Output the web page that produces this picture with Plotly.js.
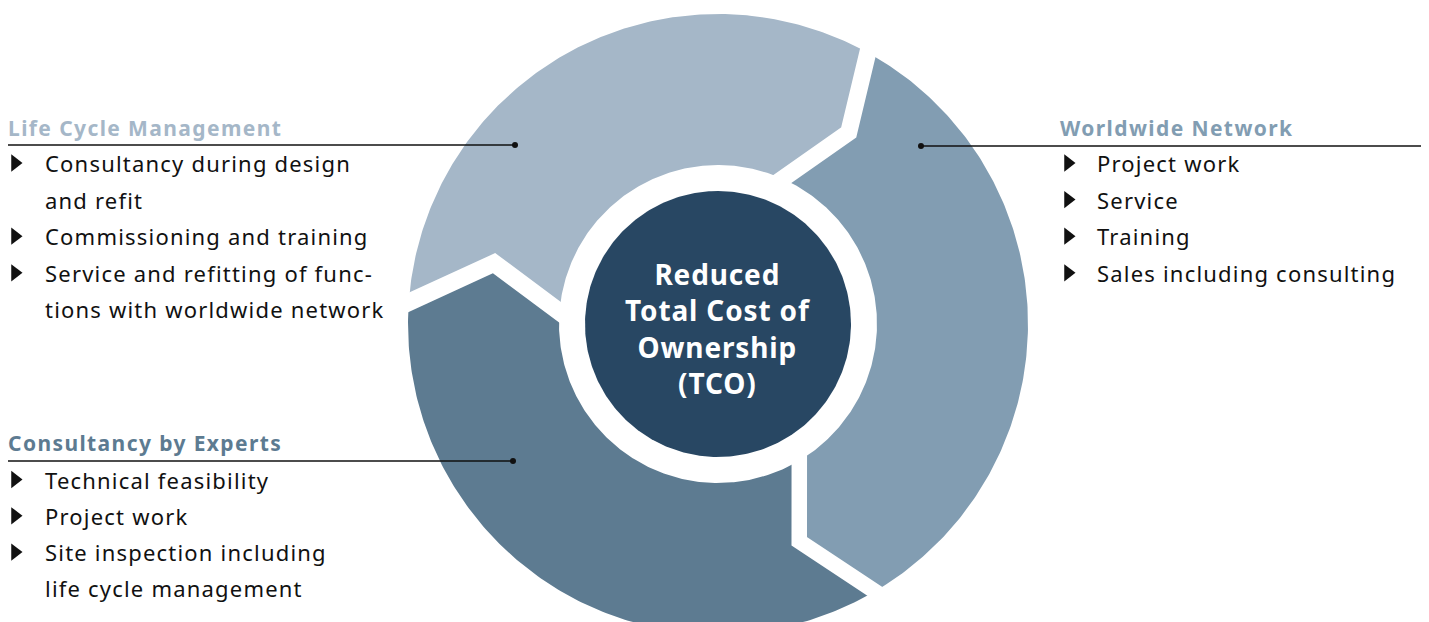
<!DOCTYPE html>
<html><head><meta charset="utf-8">
<script src="https://cdn.plot.ly/plotly-3.0.1.min.js"></script>
<style>html,body{margin:0;padding:0;background:#fff;overflow:hidden}</style>
</head><body><div id="chart" style="width:1429px;height:622px"></div>
<script>
// ---------------- data ----------------
const segmentNames  = ["Life Cycle Management", "Worldwide Network", "Consultancy by Experts"];
const segmentColors = ["#a5b7c8", "#829db2", "#5d7b91"];
// arrow-shaped gap at the START of each segment (degrees, clockwise from top)
const gapOuterDeg = [274.0, 28.9, 149.6];
const gapKinkDeg  = [285.2, 34.3, 159.5];
const gapInnerDeg = [274.4, 24.0, 149.25];
const centerLabel = ["Reduced", "Total Cost of", "Ownership", "(TCO)"];
const lcmItems = ["Consultancy during design\nand refit", "Commissioning and training", "Service and refitting of func-\ntions with worldwide network"];
const wwnItems = ["Project work", "Service", "Training", "Sales including consulting"];
const cbeItems = ["Technical feasibility", "Project work", "Site inspection including\nlife cycle management"];

// ---------------- layout geometry ----------------
const W = 1429, H = 622;
const geo = {cx: 718, cy: 324, rOuter: 310, rInner: 159, rKink: 232, rCore: 133, gapW: [17.5, 17, 15.5], ext: 22};
const FONT = "Noto Sans, Open Sans, sans-serif";
const blocks = [
  {items: lcmItems, seg: 0, titleX: 6,    titleY: 128, ruleY: 145, ruleX0: 8,   ruleX1: 515, dotAt: "end",   bulletX: 15,   textX: 43,   firstY: 163, lineH: 36.6},
  {items: wwnItems, seg: 1, titleX: 1058, titleY: 128, ruleY: 146, ruleX0: 921, ruleX1: 1421, dotAt: "start", bulletX: 1068, textX: 1095, firstY: 163, lineH: 36.6},
  {items: cbeItems, seg: 2, titleX: 6,    titleY: 443, ruleY: 461, ruleX0: 8,   ruleX1: 513, dotAt: "end",   bulletX: 15,   textX: 43,   firstY: 479.5, lineH: 36.3}
];
const spaced = (t, px) => '<span style="letter-spacing:' + px + 'px">' + t + '</span>';

function pt(deg, r) {
  const a = deg * Math.PI / 180;
  return [geo.cx + r * Math.sin(a), geo.cy - r * Math.cos(a)];
}
const traces = [];
const n = segmentNames.length;
// segments
for (let i = 0; i < n; i++) {
  const j = (i + 1) % n;
  let s = gapOuterDeg[i], e = gapOuterDeg[j];
  while (e <= s) e += 360;
  let si = gapInnerDeg[i], ei = gapInnerDeg[j];
  while (ei <= si) ei += 360;
  const xs = [], ys = [];
  for (let k = 0; k <= 200; k++) { const p = pt(s + (e - s) * k / 200, geo.rOuter); xs.push(p[0]); ys.push(p[1]); }
  let p = pt(gapKinkDeg[j], geo.rKink); xs.push(p[0]); ys.push(p[1]);
  for (let k = 0; k <= 200; k++) { const q = pt(ei - (ei - si) * k / 200, geo.rInner); xs.push(q[0]); ys.push(q[1]); }
  p = pt(gapKinkDeg[i], geo.rKink); xs.push(p[0]); ys.push(p[1]);
  traces.push({type: "scatter", mode: "lines", x: xs, y: ys, fill: "toself", fillcolor: segmentColors[i],
    line: {width: 0, color: segmentColors[i]}, hoverinfo: "skip", showlegend: false, name: segmentNames[i]});
}
// white arrow-shaped gaps
for (let i = 0; i < n; i++) {
  const o = pt(gapOuterDeg[i], geo.rOuter), k = pt(gapKinkDeg[i], geo.rKink), inn = pt(gapInnerDeg[i], geo.rInner);
  const ext = (a, b) => { const dx = a[0] - b[0], dy = a[1] - b[1], L = Math.hypot(dx, dy); return [a[0] + dx / L * geo.ext, a[1] + dy / L * geo.ext]; };
  const o2 = ext(o, k), i2 = ext(inn, k);
  traces.push({type: "scatter", mode: "lines", x: [o2[0], k[0], i2[0]], y: [o2[1], k[1], i2[1]],
    line: {width: geo.gapW[i], color: "#ffffff"}, hoverinfo: "skip", showlegend: false});
}
// core circle
{
  const xs = [], ys = [];
  for (let k = 0; k <= 360; k++) { const p = pt(k, geo.rCore); xs.push(p[0]); ys.push(p[1]); }
  traces.push({type: "scatter", mode: "lines", x: xs, y: ys, fill: "toself", fillcolor: "#284763",
    line: {width: 0, color: "#284763"}, hoverinfo: "skip", showlegend: false});
}
// text blocks
const annotations = [];
const shapes = [];
const dotX = [], dotY = [], bX = [], bY = [];
blocks.forEach(b => {
  annotations.push({x: b.titleX, y: b.titleY, xref: "x", yref: "y", xanchor: "left", yanchor: "middle", showarrow: false,
    text: "<b>" + spaced(segmentNames[b.seg], 1.4) + "</b>", font: {family: FONT, size: 21, color: segmentColors[b.seg]}});
  shapes.push({type: "line", xref: "x", yref: "y", x0: b.ruleX0, x1: b.ruleX1, y0: b.ruleY, y1: b.ruleY, line: {color: "#111", width: 1.5}});
  dotX.push(b.dotAt === "end" ? b.ruleX1 : b.ruleX0); dotY.push(b.ruleY);
  let row = 0;
  b.items.forEach(item => {
    item.split("\n").forEach((ln, li) => {
      const y = b.firstY + row * b.lineH;
      if (li === 0) { bX.push(b.bulletX); bY.push(y); }
      annotations.push({x: b.textX, y: y, xref: "x", yref: "y", xanchor: "left", yanchor: "middle", showarrow: false,
        text: spaced(ln, 1.2), font: {family: FONT, size: 22, color: "#111"}});
      row++;
    });
  });
});
traces.push({type: "scatter", mode: "markers", x: dotX, y: dotY, marker: {size: 6, color: "#111"}, hoverinfo: "skip", showlegend: false});
traces.push({type: "scatter", mode: "markers", x: bX, y: bY, marker: {size: 15, color: "#111", symbol: "triangle-right"}, hoverinfo: "skip", showlegend: false});
annotations.push({x: geo.cx, y: geo.cy + 4, xref: "x", yref: "y", xanchor: "center", yanchor: "middle", showarrow: false,
  text: "<b>" + centerLabel.map(t => spaced(t, 0.85)).join("<br>") + "</b>", font: {family: FONT, size: 28, color: "#ffffff"}});

const layout = {
  width: W, height: H, margin: {l: 0, r: 0, t: 0, b: 0},
  paper_bgcolor: "#ffffff", plot_bgcolor: "#ffffff",
  xaxis: {range: [0, W], visible: false, fixedrange: true},
  yaxis: {range: [H, 0], visible: false, fixedrange: true},
  showlegend: false, annotations: annotations, shapes: shapes
};
Plotly.newPlot("chart", traces, layout, {staticPlot: true, displayModeBar: false});
</script></body></html>
